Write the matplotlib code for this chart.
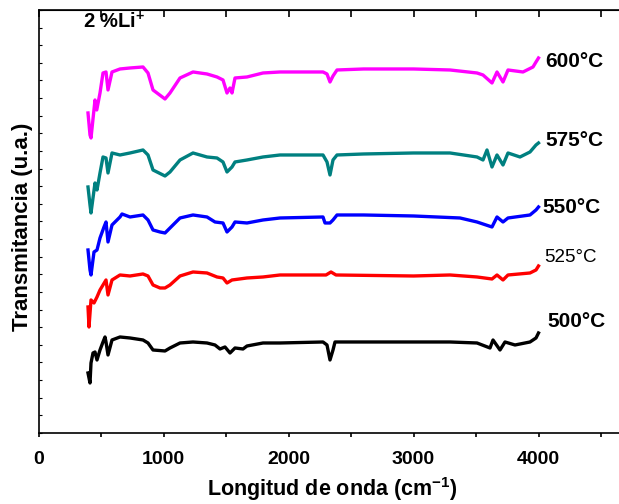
import matplotlib
matplotlib.use("Agg")
import matplotlib.pyplot as plt
import numpy as np

plt.rcParams['font.family'] = ['Liberation Sans', 'DejaVu Sans']
plt.rcParams['mathtext.fontset'] = 'custom'
plt.rcParams['mathtext.rm'] = 'Liberation Sans:bold'
plt.rcParams['mathtext.bf'] = 'Liberation Sans:bold'
plt.rcParams['mathtext.default'] = 'bf'

# ---- data (wavenumber cm^-1, transmittance a.u.) ----
wn_600 = [396, 412, 420, 452, 466, 492, 516, 540, 556, 588, 652, 732, 836, 876, 916, 1012, 1052, 1132,
          1236, 1348, 1428, 1476, 1508, 1532, 1548, 1572, 1668, 1796, 1932, 2276, 2308, 2332, 2356, 2388,
          2600, 3000, 3292, 3508, 3556, 3628, 3668, 3716, 3756, 3876, 3956, 3980, 4000]
t_600 = [320, 298, 295, 333, 323, 340, 360, 361, 343, 361, 364, 365, 366, 360, 343, 334, 340, 355,
         361, 359, 356, 353, 340, 345, 340, 355, 356, 360, 361, 361, 359, 351, 357, 363,
         364, 364, 363, 360, 358, 350, 361, 351, 363, 361, 366, 371, 375]

wn_575 = [396, 412, 420, 452, 468, 492, 516, 540, 556, 588, 652, 732, 836, 876, 916, 1012, 1052, 1132,
          1236, 1348, 1428, 1476, 1508, 1548, 1572, 1668, 1796, 1932, 2276, 2308, 2332, 2356, 2388,
          2600, 3000, 3292, 3508, 3556, 3588, 3628, 3668, 3716, 3756, 3852, 3932, 3980, 4000]
t_575 = [246, 228, 220, 250, 243, 260, 276, 275, 260, 280, 278, 280, 283, 278, 263, 257, 261, 273,
         280, 276, 275, 271, 261, 266, 271, 273, 276, 278, 278, 271, 258, 273, 278,
         279, 280, 280, 276, 273, 283, 266, 278, 268, 280, 276, 281, 288, 290]

wn_550 = [396, 412, 420, 444, 468, 492, 524, 540, 556, 588, 652, 668, 732, 836, 876, 916, 972, 1012,
          1052, 1132, 1236, 1348, 1412, 1476, 1508, 1548, 1572, 1668, 1796, 1932, 2276, 2292, 2332,
          2356, 2388, 2600, 3000, 3372, 3508, 3628, 3668, 3716, 3756, 3932, 3980, 4000]
t_550 = [183, 163, 158, 181, 183, 195, 206, 211, 191, 208, 216, 219, 216, 218, 213, 203, 201, 200,
         205, 215, 218, 216, 211, 210, 201, 206, 211, 210, 213, 215, 216, 210, 210,
         213, 218, 218, 217, 215, 211, 206, 216, 211, 215, 218, 223, 226]

wn_525 = [396, 404, 420, 444, 468, 492, 516, 540, 556, 588, 652, 732, 836, 876, 916, 972, 1012, 1052,
          1132, 1236, 1348, 1428, 1476, 1508, 1548, 1668, 1796, 1932, 2300, 2340, 2380, 3000, 3292,
          3508, 3628, 3668, 3716, 3756, 3932, 3980, 4000]
t_525 = [126, 106, 133, 130, 136, 143, 148, 153, 138, 153, 158, 157, 159, 157, 148, 145, 145, 148,
         157, 161, 160, 156, 155, 150, 153, 155, 156, 158, 158, 161, 158, 157, 158,
         156, 154, 158, 153, 158, 160, 163, 167]

wn_500 = [396, 412, 420, 436, 452, 468, 492, 516, 532, 540, 556, 588, 652, 732, 836, 876, 916, 1012,
          1052, 1132, 1236, 1348, 1412, 1452, 1492, 1532, 1572, 1636, 1668, 1796, 1932, 2276, 2308,
          2332, 2356, 2372, 2600, 3000, 3292, 3508, 3612, 3636, 3692, 3732, 3812, 3932, 3980, 4000]
t_500 = [60, 50, 70, 80, 81, 73, 83, 91, 96, 91, 78, 93, 96, 95, 93, 90, 83, 82,
         85, 90, 91, 90, 88, 84, 86, 80, 85, 84, 87, 90, 90, 91, 88,
         73, 83, 91, 91, 91, 91, 90, 85, 93, 83, 91, 88, 91, 95, 100]

series = [
    (wn_600, t_600, '#FF00FF', '600°C'),
    (wn_575, t_575, '#008080', '575°C'),
    (wn_550, t_550, '#0000FF', '550°C'),
    (wn_525, t_525, '#FF0000', '525°C'),
    (wn_500, t_500, '#000000', '500°C'),
]

fig = plt.figure(figsize=(6.19, 5.04), dpi=100)
ax = fig.add_axes([0.0622, 0.1409, 0.9378, 0.8393])

for wn, t, c, lab in series:
    ax.plot(wn, t, color=c, lw=2.4, solid_joinstyle='round')

ax.set_xlim(0, 4644)
ax.set_ylim(0, 423)

ax.spines['right'].set_visible(False)
for s in ['left', 'bottom', 'top']:
    ax.spines[s].set_linewidth(1.2)

ax.set_xticks([0, 1000, 2000, 3000, 4000])
ax.set_xticks([500, 1500, 2500, 3500, 4500], minor=True)
ax.tick_params(axis='x', which='both', direction='out', length=3, width=1.2, top=False,
               labelsize=14, pad=10)
for lbl in ax.get_xticklabels():
    lbl.set_fontweight('bold')

# top ticks (inward)
secx = ax.secondary_xaxis('top')
secx.set_xticks([0, 500, 1000, 1500, 2000, 2500, 3000, 3500, 4000, 4500])
secx.tick_params(direction='in', length=5, width=1.2, labeltop=False)

ax.set_yticks(np.linspace(0, 423, 25))
ax.set_yticklabels([])
ax.tick_params(axis='y', direction='in', length=2, width=0.8)

ax.set_xlabel('Longitud de onda (cm$^{-1}$)', fontsize=15.5, fontweight='bold')
ax.xaxis.label.set_va('baseline')
ax.xaxis.set_label_coords(0.506, -0.150)
ax.set_ylabel('Transmitancia (u.a.)', fontsize=16, fontweight='bold')
ax.yaxis.set_label_coords(-0.0095, 0.487)

ax.text(356, 411, '2 %Li$^{+}$', fontsize=14.5, fontweight='bold', va='center', ha='left')
lab_pos = {
    '600°C': (4052, 371, 'bold', 15),
    '575°C': (4052, 292, 'bold', 15),
    '550°C': (4028, 225, 'bold', 15),
    '525°C': (4044, 175, 'normal', 13.5),
    '500°C': (4068, 111, 'bold', 15),
}
for lab, (x, y, w, fs) in lab_pos.items():
    ax.text(x, y, lab, fontsize=fs, fontweight=w, va='center', ha='left', clip_on=False)

fig.savefig('out.png', dpi=100)
